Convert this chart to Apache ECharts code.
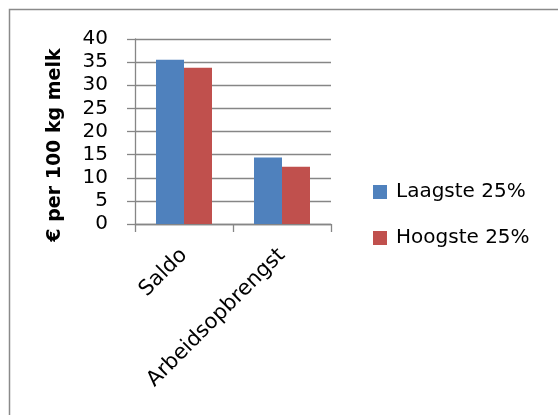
<!DOCTYPE html>
<html>
<head>
<meta charset="utf-8">
<script src="https://cdn.jsdelivr.net/npm/echarts@6/dist/echarts.min.js"></script>
<style>
html,body{margin:0;padding:0;background:#fff;}
#chart{width:558px;height:415px;}
</style>
</head>
<body>
<div id="chart"></div>
<script>
const categories = ['Saldo', 'Arbeidsopbrengst'];
const laagste = [35.5, 14.4];
const hoogste = [33.8, 12.4];
const seriesNames = ['Laagste 25%', 'Hoogste 25%'];
const yAxisTitle = '€ per 100 kg melk';

const FONT = '"DejaVu Sans", sans-serif';
const chart = echarts.init(document.getElementById('chart'));
chart.setOption({
  animation: false,
  backgroundColor: '#fff',
  graphic: [{
    type: 'rect',
    shape: { x: 9.5, y: 9.5, width: 600, height: 500 },
    style: { fill: 'none', stroke: '#8a8a8a', lineWidth: 1.5 },
    silent: true
  }],
  grid: { left: 135, top: 39, width: 196, height: 185 },
  legend: {
    orient: 'vertical',
    left: 373,
    top: 182,
    padding: 0,
    itemWidth: 14,
    itemHeight: 14,
    itemGap: 26,
    icon: 'rect',
    textStyle: { fontFamily: FONT, fontSize: 20, color: '#000', padding: [0, 0, 0, 4] },
    data: seriesNames
  },
  xAxis: {
    type: 'category',
    data: categories,
    axisLine: { show: true, lineStyle: { color: '#868686', width: 1.3 } },
    axisTick: { show: true, length: 8, alignWithLabel: false, lineStyle: { color: '#868686', width: 1.3 } },
    axisLabel: { rotate: 45, margin: 28, fontFamily: FONT, fontSize: 21, color: '#000' }
  },
  yAxis: {
    type: 'value',
    min: 0, max: 40, interval: 5,
    name: yAxisTitle,
    nameLocation: 'middle',
    nameGap: 70,
    nameRotate: 90,
    nameTextStyle: { fontFamily: FONT, fontSize: 19, fontWeight: 'bold', color: '#000', padding: [0, 27, 0, 0] },
    axisLine: { show: true, lineStyle: { color: '#868686', width: 1.3 } },
    axisTick: { show: true, length: 8, lineStyle: { color: '#868686', width: 1.3 } },
    splitLine: { show: true, lineStyle: { color: '#868686', width: 1.3 } },
    axisLabel: { margin: 27, fontFamily: FONT, fontSize: 20, color: '#000' }
  },
  series: [
    { name: seriesNames[0], type: 'bar', data: laagste, barWidth: 28, barGap: '0%', itemStyle: { color: '#4F81BD' } },
    { name: seriesNames[1], type: 'bar', data: hoogste, barWidth: 28, barGap: '0%', itemStyle: { color: '#C0504D' } }
  ]
});
</script>
</body>
</html>
